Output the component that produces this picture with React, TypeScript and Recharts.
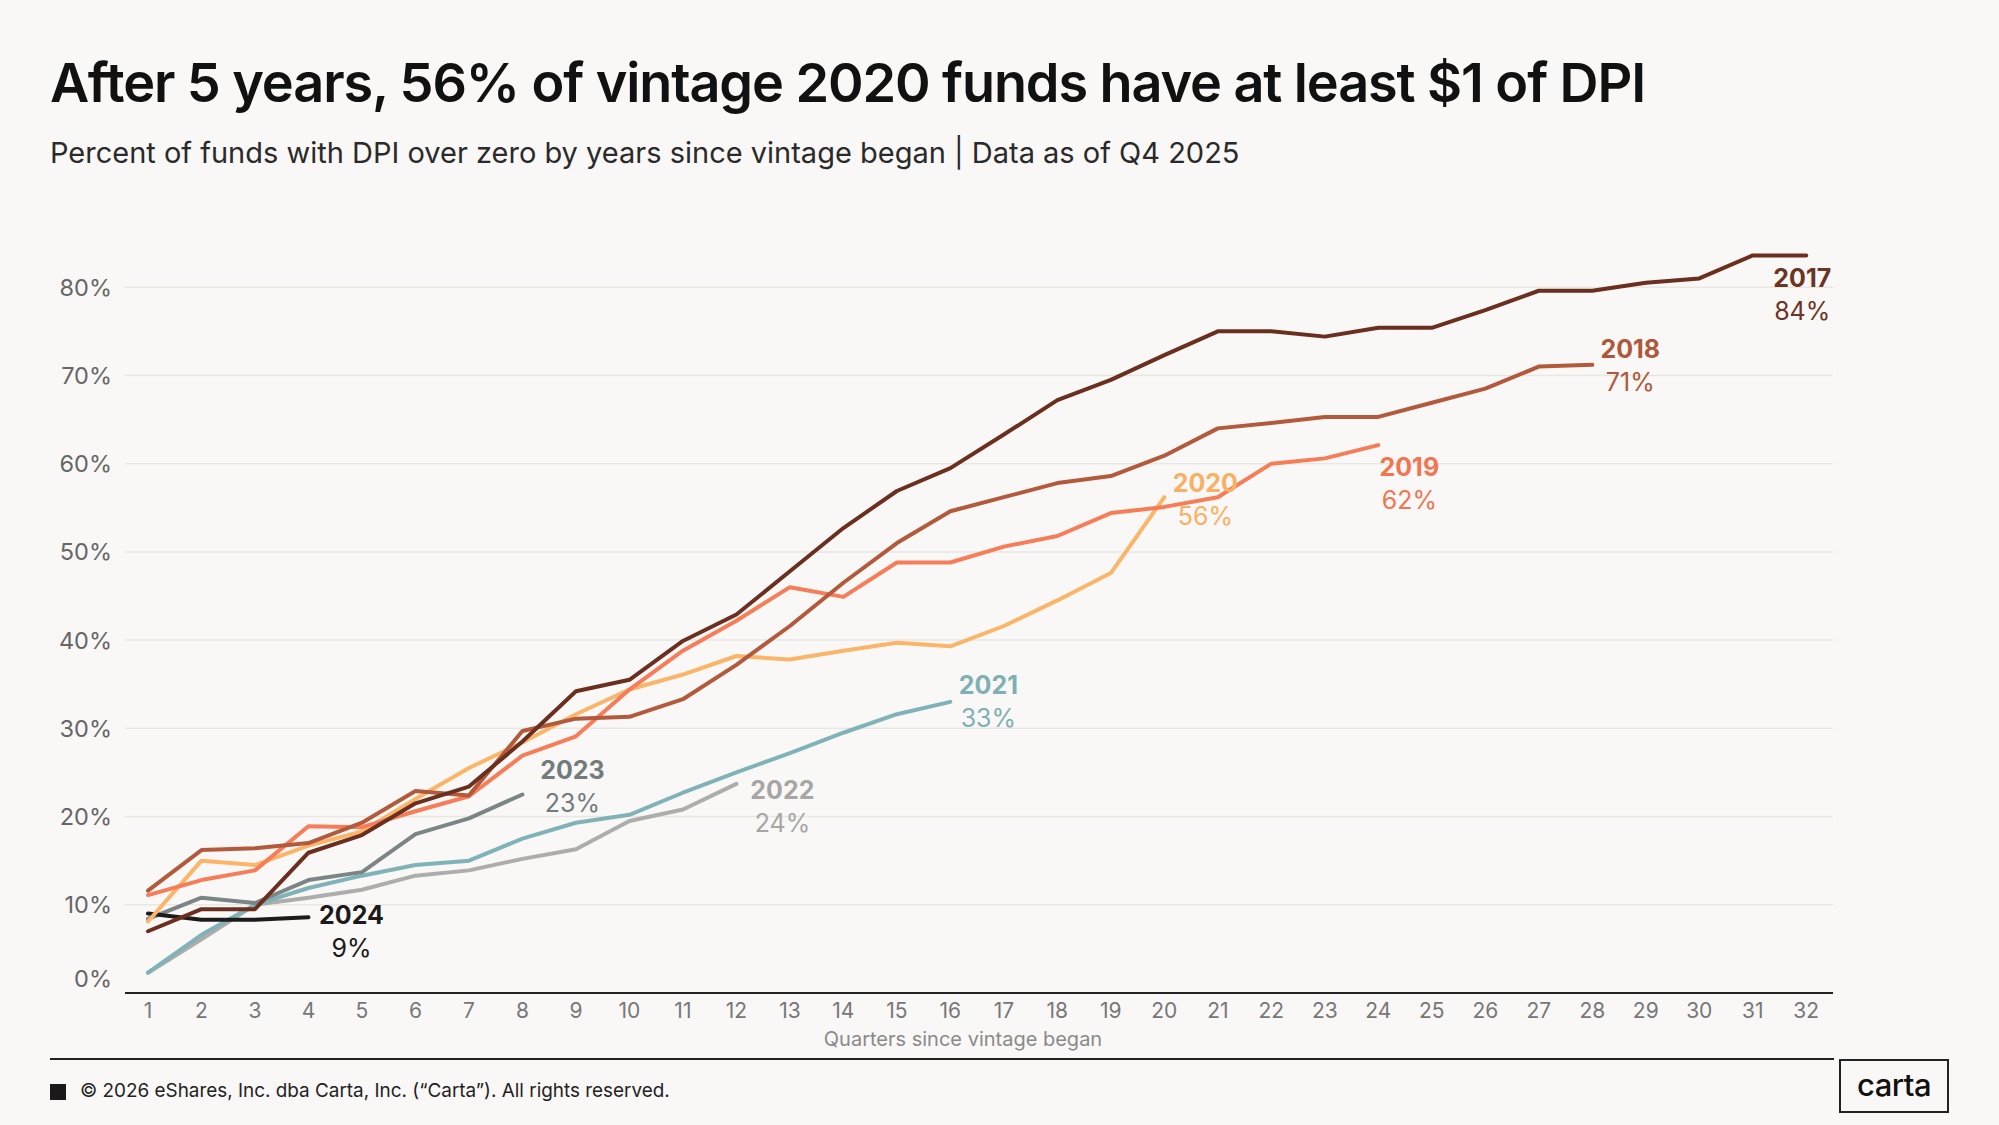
import React from 'react';
import { LineChart, Line, XAxis, YAxis, CartesianGrid } from 'recharts';

// quarters since vintage began
const quarters = Array.from({ length: 32 }, (_, i) => i + 1);
const yTicks = [0, 10, 20, 30, 40, 50, 60, 70, 80];
const Y_MAX = 90;

// percent of funds with DPI > 0, by quarter
const v2017 = [7.0, 9.5, 9.5, 15.9, 17.9, 21.5, 23.4, 28.5, 34.2, 35.5, 39.9, 42.9, 47.8, 52.7, 56.9, 59.5,
    63.3, 67.2, 69.5, 72.3, 75.0, 75.0, 74.4, 75.4, 75.4, 77.4, 79.6, 79.6, 80.5, 81.0, 83.6, 83.6];
const v2018 = [11.6, 16.2, 16.4, 17.0, 19.3, 22.9, 22.4, 29.7, 31.1, 31.3, 33.3, 37.2, 41.6, 46.5, 51.0, 54.6,
    56.2, 57.8, 58.6, 60.9, 64.0, 64.6, 65.3, 65.3, 66.9, 68.5, 71.0, 71.2];
const v2019 = [11.1, 12.8, 13.9, 18.9, 18.8, 20.6, 22.3, 26.9, 29.1, 34.4, 38.8, 42.2, 46.0, 44.9, 48.8, 48.8,
    50.6, 51.8, 54.4, 55.1, 56.2, 60.0, 60.6, 62.1];
const v2020 = [8.1, 15.0, 14.5, 16.7, 18.3, 22.0, 25.5, 28.4, 31.6, 34.4, 36.1, 38.2, 37.8, 38.8, 39.7, 39.3,
    41.6, 44.5, 47.6, 56.2];
const v2021 = [2.3, 6.6, 10.0, 11.9, 13.3, 14.5, 15.0, 17.5, 19.3, 20.2, 22.7, 25.0, 27.2, 29.5, 31.6, 33.0];
const v2022 = [2.3, 6.1, 10.0, 10.8, 11.7, 13.3, 13.9, 15.2, 16.3, 19.5, 20.8, 23.7];
const v2023 = [8.4, 10.8, 10.2, 12.8, 13.7, 18.0, 19.8, 22.5];
const v2024 = [9.0, 8.3, 8.3, 8.6];

const seriesValues: Record<string, number[]> = {
    '2017': v2017, '2018': v2018, '2019': v2019, '2020': v2020,
    '2021': v2021, '2022': v2022, '2023': v2023, '2024': v2024,
};

// drawing order, colours and end-label offsets
const SERIES = [
    { year: '2022', color: '#adadab', text: '#a6a6a4', dx: 46, dy: 6 },
    { year: '2021', color: '#80b3b7', text: '#7eb0b4', dx: 38, dy: -17 },
    { year: '2023', color: '#7c8585', text: '#737c7c', dx: 50, dy: -25 },
    { year: '2024', color: '#1c1c1c', text: '#1a1a1a', dx: 43, dy: -2 },
    { year: '2020', color: '#fbb568', text: '#f9b062', dx: 41, dy: -14 },
    { year: '2019', color: '#f67d58', text: '#f2754f', dx: 31, dy: 22 },
    { year: '2018', color: '#b45a3c', text: '#b0573a', dx: 38, dy: -16 },
    { year: '2017', color: '#6b2f1f', text: '#6b3423', dx: -4, dy: 23 },
];

const data = quarters.map((q, i) => {
    const row: Record<string, number | undefined> = { q };
    Object.keys(seriesValues).forEach((y) => {
        row[`y${y}`] = seriesValues[y][i];
    });
    return row;
});

const FONT = 'Inter, "Noto Sans", sans-serif';

// horizontal grid only at the labelled ticks (0 is covered by the axis line)
const gridLines = ({ yAxis, offset }: any) => {
    const ticks = yTicks.slice(1);
    if (yAxis && typeof yAxis.scale === 'function') return ticks.map((t) => yAxis.scale(t));
    return ticks.map((t) => offset.top + offset.height * (1 - t / Y_MAX));
};

const YTick = (props: any) => {
    const { x, y, payload } = props;
    const shift = payload.value === 0 ? -14 : 0;
    return (
        <text x={x - 5} y={y + shift} dy="0.36em" textAnchor="end" fontSize={23.5} fill="#666" fontFamily={FONT}>
            {`${payload.value}%`}
        </text>
    );
};

const EndLabel = ({ s, last }: { s: typeof SERIES[number]; last: number }) => (props: any) => {
    const { x, y, index, value } = props;
    if (index !== last || x == null) return null;
    const cx = x + s.dx;
    const cy = y + s.dy;
    return (
        <g fontFamily={FONT} fontSize={25} textAnchor="middle">
            <text x={cx} y={cy} dy="0.36em" fontWeight={700} fill={s.text}>{s.year}</text>
            <text x={cx} y={cy + 33} dy="0.36em" fill={s.text}>{`${Math.round(value)}%`}</text>
        </g>
    );
};

const App = () => (
    <div style={{ position: 'absolute', left: 0, top: 0, width: 1999, height: 1125, background: '#f9f8f6', overflow: 'hidden', fontFamily: FONT }}>
        <div style={{ position: 'absolute', left: 50, top: 56, fontSize: 54, lineHeight: 1, fontWeight: 600, color: '#111', letterSpacing: -1.1, whiteSpace: 'nowrap' }}>
            After 5 years, 56% of vintage 2020 funds have at least $1 of DPI
        </div>
        <div style={{ position: 'absolute', left: 50, top: 138, fontSize: 29, lineHeight: 1, color: '#2a2a2a', letterSpacing: 0, whiteSpace: 'nowrap' }}>
            Percent of funds with DPI over zero by years since vintage began | Data as of Q4 2025
        </div>

        <div style={{ position: 'absolute', left: 0, top: 0 }}>
            <LineChart width={1999} height={1125} data={data} margin={{ top: 199, right: 166, bottom: 102, left: 45 }}>
                <CartesianGrid
                    horizontal
                    vertical={false}
                    stroke="#e9e7e4"
                    strokeWidth={1.5}
                    horizontalCoordinatesGenerator={gridLines}
                />
                <XAxis
                    dataKey="q"
                    type="number"
                    domain={[0.57, 32.5]}
                    ticks={quarters}
                    interval={0}
                    allowDataOverflow
                    tickLine={false}
                    axisLine={{ stroke: '#222', strokeWidth: 2 }}
                    tickMargin={4}
                    tick={{ fontSize: 21, fill: '#777', fontFamily: FONT }}
                />
                <YAxis
                    type="number"
                    domain={[0, Y_MAX]}
                    ticks={yTicks}
                    width={80}
                    axisLine={false}
                    tickLine={false}
                    tick={<YTick />}
                    allowDataOverflow
                />
                {SERIES.map((s) => (
                    <Line
                        key={s.year}
                        type="linear"
                        dataKey={`y${s.year}`}
                        stroke={s.color}
                        strokeWidth={4}
                        strokeLinecap="round"
                        strokeLinejoin="round"
                        dot={false}
                        activeDot={false}
                        connectNulls={false}
                        isAnimationActive={false}
                        label={EndLabel({ s, last: seriesValues[s.year].length - 1 })}
                    />
                ))}
            </LineChart>
        </div>

        <div style={{ position: 'absolute', left: 763, top: 1029, width: 400, textAlign: 'center', fontSize: 20, lineHeight: 1, color: '#8a8a8a' }}>
            Quarters since vintage began
        </div>

        <div style={{ position: 'absolute', left: 50, top: 1058, width: 1784, height: 2, background: '#222' }} />
        <div style={{ position: 'absolute', left: 50, top: 1084, width: 16, height: 16, background: '#1a1a1a' }} />
        <div style={{ position: 'absolute', left: 80, top: 1082, fontSize: 18.9, lineHeight: 1, color: '#222', whiteSpace: 'nowrap' }}>
            © 2026 eShares, Inc. dba Carta, Inc. (“Carta”). All rights reserved.
        </div>
        <div style={{ position: 'absolute', left: 1839, top: 1059, width: 110, height: 54, boxSizing: 'border-box', border: '2px solid #222', display: 'flex', alignItems: 'center', justifyContent: 'center', fontSize: 31, fontWeight: 500, color: '#111', letterSpacing: -0.5, paddingBottom: 4 }}>
            carta
        </div>
    </div>
);

export default App;
